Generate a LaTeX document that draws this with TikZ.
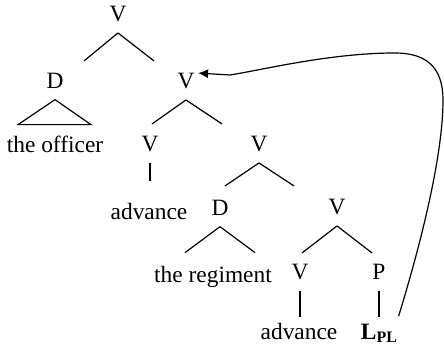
\documentclass[tikz,border=0pt]{standalone}
\usepackage{fontspec}
\setmainfont{Liberation Serif}
\usetikzlibrary{arrows.meta}

\begin{document}
\begin{tikzpicture}[x=0.5pt,y=-0.5pt,
		cat/.style={inner xsep=0pt,inner ysep=5pt,anchor=base},
		wrd/.style={inner sep=0pt,anchor=base},
		line width=0.6pt,
		font=\fontsize{11.7}{14}\selectfont]
		\useasboundingbox (0,0) rectangle (444,346);
		\node[cat] (vtop) at (118,22) {V};
		\node[cat] (d1) at (55,89) {D};
		\node[cat] (v1) at (186,89) {V};
		\node[wrd] (off) at (55,153) {the officer};
		\node[cat] (v2) at (150,152) {V};
		\node[cat] (v3) at (259,152) {V};
		\node[wrd] (adv1) at (149,220) {advance};
		\node[cat] (d2) at (220,216) {D};
		\node[cat] (v4) at (337,215) {V};
		\node[wrd] (reg) at (213,283) {the regiment};
		\node[cat] (v5) at (300,280) {V};
		\node[cat] (pp) at (379,280) {P};
		\node[wrd] (adv2) at (299,340) {advance};
		\node[wrd] (lpl) at (379,340) {\textbf{L}\raisebox{-1.2pt}{\fontsize{8}{8}\selectfont\textbf{PL}}};
		\draw (vtop.south) -- ++(-34,28) (vtop.south) -- ++(36,28);
		\draw (d1.south) -- ++(-37,25) -- ++(73,0) -- cycle;
		\draw (v1.south) -- ++(-34,24) (v1.south) -- ++(36,24);
		\draw (v2.south) -- ++(0,18);
		\draw (v3.south) -- ++(-34,23) (v3.south) -- ++(35,23);
		\draw (d2.south) -- ++(-35,26) (d2.south) -- ++(35,26);
		\draw (v4.south) -- ++(-35,27) (v4.south) -- ++(35,27);
		\draw (v5.south) -- ++(0,26);
		\draw (pp.south) -- ++(0,26);
		% movement back up to the V
		\draw[-{Latex[length=5pt,width=4.5pt]}] ([xshift=0.5pt,yshift=4pt]lpl.north east) .. controls (425,230) and (443,150) .. (443,100)
			.. controls (443,66) and (425,53) .. (395,53) .. controls (330,53) and (262,70) .. (230,75)
			-- ([xshift=1.5pt,yshift=-5pt]v1.north east);
	\end{tikzpicture}
\end{document}
